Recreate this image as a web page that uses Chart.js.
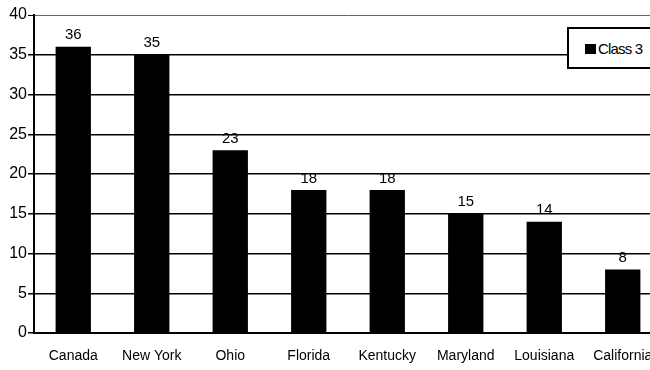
<!DOCTYPE html>
<html>
<head>
<meta charset="utf-8">
<script src="https://cdn.jsdelivr.net/npm/chart.js@4/dist/chart.umd.min.js"></script>
<style>
  body { margin: 0; background: #fff; overflow: hidden; }
  #wrap { position: relative; width: 672px; height: 370px; }
  #leyenda {
    position: absolute; left: 567px; top: 27px; width: 110px; height: 42px;
    border: 2px solid #000; background: #fff;
    font: 15px "Liberation Sans", Arial, sans-serif; color: #000;
    box-sizing: border-box;
  }
  #leyenda span.cuadro {
    position: absolute; left: 16px; top: 15px; width: 11px; height: 10px; background: #000;
  }
  #leyenda span.texto { position: absolute; left: 29px; top: 11px; letter-spacing: -0.8px; }
</style>
</head>
<body>
<div id="wrap">
  <canvas id="grafica" width="672" height="370"></canvas>
  <div id="leyenda"></div>
</div>
<script>
const estados = ["Canada", "New York", "Ohio", "Florida", "Kentucky", "Maryland", "Louisiana", "California"]
const valores = [36, 35, 23, 18, 18, 15, 14, 8]
const serie = "Class 3"
const ticksY = [0, 5, 10, 15, 20, 25, 30, 35, 40]

const fuente = '"Liberation Sans", Arial, sans-serif'

// numeros encima de cada barra
const etiquetas = {
  id: "etiquetas",
  afterDatasetsDraw(chart) {
    const ctx = chart.ctx
    const meta = chart.getDatasetMeta(0)
    ctx.save()
    ctx.fillStyle = "#000"
    ctx.font = "15px " + fuente
    ctx.textAlign = "center"
    ctx.textBaseline = "bottom"
    meta.data.forEach((barra, i) => {
      ctx.fillText(chart.data.datasets[0].data[i], barra.x, barra.y - 4)
    })
    ctx.restore()
  }
}

const config = {
  type: "bar",
  data: {
    labels: estados,
    datasets: [
      {
        label: serie,
        backgroundColor: "#000",
        borderWidth: 0,
        data: valores,
        categoryPercentage: 1,
        barPercentage: 0.45
      }
    ]
  },
  options: {
    responsive: false,
    animation: false,
    layout: { padding: { top: 15, right: 10, left: 0, bottom: 0 } },
    plugins: {
      legend: { display: false },
      tooltip: { enabled: false }
    },
    scales: {
      x: {
        grid: { display: false },
        border: { display: true, color: "#000", width: 2 },
        ticks: { color: "#000", font: { family: fuente, size: 14 }, padding: 7, maxRotation: 0, autoSkip: false },
        afterFit(escala) { escala.height = 37 }
      },
      y: {
        min: 0,
        max: 40,
        afterBuildTicks(escala) { escala.ticks = ticksY.map(v => ({ value: v })) },
        grid: {
          color: (c) => c.tick && c.tick.value === 40 ? "#666" : "#000",
          lineWidth: (c) => c.tick && c.tick.value === 40 ? 1 : 1.5,
          drawTicks: true,
          tickLength: 6,
          tickColor: "#000"
        },
        border: { display: true, color: "#000", width: 2 },
        ticks: { color: "#000", font: { family: fuente, size: 16 }, padding: 1 },
        afterFit(escala) { escala.width = 34 }
      }
    }
  },
  plugins: [etiquetas]
}

const miGraf = new Chart(document.querySelector("#grafica"), config)

document.querySelector("#leyenda").innerHTML =
  `<span class="cuadro"></span><span class="texto">${serie}</span>`
</script>
</body>
</html>
